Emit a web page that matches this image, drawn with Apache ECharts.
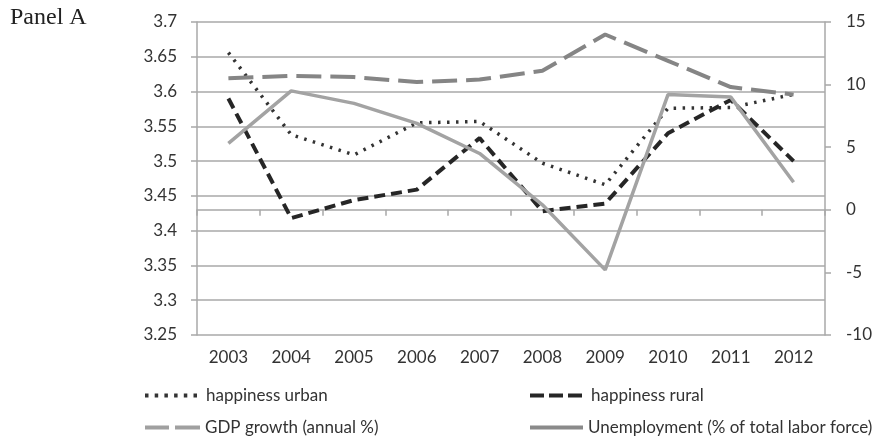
<!DOCTYPE html>
<html>
<head>
<meta charset="utf-8">
<script src="https://cdn.jsdelivr.net/npm/echarts@6/dist/echarts.min.js"></script>
<style>
  html, body { margin: 0; padding: 0; background: #fff; }
  #chart { width: 885px; height: 439px; }
</style>
</head>
<body>
<div id="chart"></div>
<script>
// Years on the category axis
const years = ['2003', '2004', '2005', '2006', '2007', '2008', '2009', '2010', '2011', '2012'];

// Happiness scores (left axis)
const happinessUrban = [3.656, 3.538, 3.509, 3.555, 3.557, 3.497, 3.466, 3.576, 3.577, 3.596];
const happinessRural = [3.590, 3.418, 3.444, 3.459, 3.533, 3.428, 3.439, 3.540, 3.588, 3.500];

// Macro indicators in percent (right axis)
const gdpGrowth = [10.5, 10.7, 10.6, 10.2, 10.4, 11.1, 14.0, 11.9, 9.8, 9.2];
const unemployment = [5.3, 9.5, 8.5, 6.9, 4.5, 0.4, -4.8, 9.2, 9.0, 2.2];

// Axis ranges and tick steps
const leftAxisRange = [3.25, 3.7, 0.05];
const rightAxisRange = [-10, 15, 5];

const FONT = 'Lato, "Open Sans", sans-serif';
const TEXT = '#333333';
const GRID = '#a8a8a8';

// Legend keys drawn as small filled paths so the dash pattern reads clearly
const ICON_DOTS = 'path://M0,0h3.5v4h-3.5z M9.7,0h3.5v4h-3.5z M19.4,0h3.5v4h-3.5z M29.1,0h3.5v4h-3.5z M38.8,0h3.5v4h-3.5z M48.5,0h3.5v4h-3.5z';
const ICON_SHORT_DASH = 'path://M0,0h14v4h-14z M19,0h14v4h-14z M38,0h14v4h-14z';
const ICON_LONG_DASH = 'path://M0,0h24v4h-24z M30,0h25v4h-25z';
const ICON_SOLID = 'path://M0,0h53v4h-53z';

const chart = echarts.init(document.getElementById('chart'), null, { renderer: 'canvas' });

function legendAt(name, icon, color, width, textPad, left, top) {
  return {
    data: [{ name: name, icon: icon }],
    left: left,
    top: top,
    itemWidth: width,
    itemHeight: 4,
    itemGap: 0,
    selectedMode: false,
    itemStyle: { color: color, borderWidth: 0 },
    textStyle: { fontFamily: FONT, fontSize: 17, color: TEXT, padding: [0, 0, 0, textPad] },
    padding: 0
  };
}

const option = {
  animation: false,
  backgroundColor: '#ffffff',
  title: {
    text: 'Panel A',
    left: 10,
    top: 6,
    padding: 0,
    textStyle: { fontFamily: '"Liberation Serif", "DejaVu Serif", serif', fontSize: 24, fontWeight: 'normal', color: '#222' }
  },
  grid: { left: 197, right: 60, top: 22, bottom: 104, containLabel: false },
  legend: [
    legendAt('happiness urban', ICON_DOTS, '#333333', 52, 4, 145, 387),
    legendAt('happiness rural', ICON_SHORT_DASH, '#262626', 52, 4, 530, 387),
    legendAt('GDP growth (annual %)', ICON_LONG_DASH, '#a0a0a0', 55, 0, 145, 419),
    legendAt('Unemployment (% of total labor force)', ICON_SOLID, '#8a8a8a', 53, 0, 530, 419)
  ],
  xAxis: {
    type: 'category',
    data: years,
    boundaryGap: true,
    axisLine: { lineStyle: { color: GRID, width: 1.5 } },
    axisTick: { show: true, interval: 0, length: 6, lineStyle: { color: GRID, width: 1.5 } },
    axisLabel: { fontFamily: FONT, fontSize: 17, color: TEXT, margin: 14 }
  },
  yAxis: [
    {
      type: 'value',
      position: 'left',
      min: leftAxisRange[0],
      max: leftAxisRange[1],
      interval: leftAxisRange[2],
      axisLine: { show: true, lineStyle: { color: GRID, width: 1.5 } },
      axisTick: { show: true, length: 6, lineStyle: { color: GRID, width: 1.5 } },
      splitLine: { show: true, lineStyle: { color: GRID, width: 1.5 } },
      axisLabel: {
        fontFamily: FONT, fontSize: 17, color: TEXT, margin: 20,
        formatter: v => String(+v.toFixed(2))
      }
    },
    {
      type: 'value',
      position: 'right',
      min: rightAxisRange[0],
      max: rightAxisRange[1],
      interval: rightAxisRange[2],
      axisLine: { show: true, lineStyle: { color: GRID, width: 1.5 } },
      axisTick: { show: true, length: 6, lineStyle: { color: GRID, width: 1.5 } },
      splitLine: { show: false },
      axisLabel: { fontFamily: FONT, fontSize: 17, color: TEXT, margin: 21 }
    }
  ],
  series: [
    {
      name: 'happiness urban',
      type: 'line',
      yAxisIndex: 0,
      data: happinessUrban,
      symbol: 'none',
      color: '#333333',
      lineStyle: { color: '#333333', width: 3.5, type: [2.5, 6.5] }
    },
    {
      name: 'happiness rural',
      type: 'line',
      yAxisIndex: 0,
      data: happinessRural,
      symbol: 'none',
      color: '#262626',
      lineStyle: { color: '#262626', width: 4, type: [11, 6] }
    },
    {
      name: 'GDP growth (annual %)',
      type: 'line',
      yAxisIndex: 1,
      data: gdpGrowth,
      symbol: 'none',
      color: '#858585',
      lineStyle: { color: '#858585', width: 4, type: [25, 9] }
    },
    {
      name: 'Unemployment (% of total labor force)',
      type: 'line',
      yAxisIndex: 1,
      data: unemployment,
      symbol: 'none',
      color: '#a3a3a3',
      lineStyle: { color: '#a3a3a3', width: 3.5, type: 'solid' }
    }
  ]
};

chart.setOption(option);
</script>
</body>
</html>
